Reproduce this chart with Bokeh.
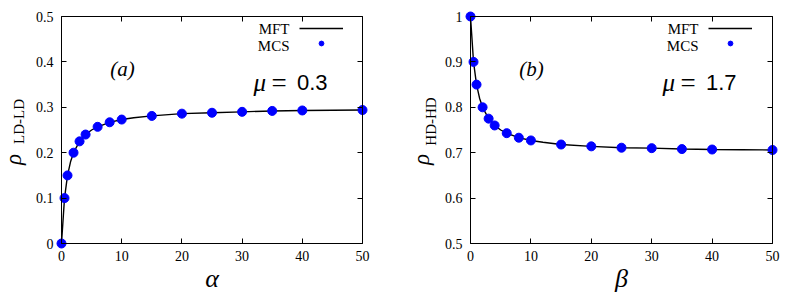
import math
from bokeh.plotting import figure
from bokeh.models import (Range1d, LinearAxis, FixedTicker, Label, Legend, LegendItem,
                          CustomJSTickFormatter)
from bokeh.layouts import row
from bokeh.embed import file_html
from bokeh.resources import INLINE
from bokeh.core.properties import value

# ---------------- data ----------------
alpha_mcs = [0, 0.5, 1, 2, 3, 4, 6, 8, 10, 15, 20, 25, 30, 35, 40, 50]
rho_ld_mcs = [0, 0.1, 0.15, 0.2, 0.225, 0.24, 0.257, 0.267, 0.273, 0.281,
              0.286, 0.288, 0.290, 0.292, 0.293, 0.294]
alpha_mft = [0, 0.5, 1, 1.5, 2, 3, 4, 5, 6, 8, 10, 12, 15, 20, 25, 30, 35, 40, 45, 50]
rho_ld_mft = [0, 0.1, 0.15, 0.18, 0.2, 0.225, 0.24, 0.25, 0.257, 0.267, 0.273,
              0.277, 0.281, 0.286, 0.288, 0.290, 0.292, 0.293, 0.2935, 0.294]

beta_mcs = [0, 0.5, 1, 2, 3, 4, 6, 8, 10, 15, 20, 25, 30, 35, 40, 50]
rho_hd_mcs = [1.0, 0.9, 0.85, 0.8, 0.775, 0.76, 0.743, 0.733, 0.727, 0.718,
              0.714, 0.711, 0.710, 0.708, 0.707, 0.706]
beta_mft = [0, 0.5, 1, 1.5, 2, 3, 4, 5, 6, 8, 10, 12, 15, 20, 25, 30, 35, 40, 45, 50]
rho_hd_mft = [1.0, 0.9, 0.85, 0.82, 0.8, 0.775, 0.76, 0.75, 0.743, 0.733, 0.727,
              0.723, 0.718, 0.714, 0.711, 0.710, 0.708, 0.707, 0.7065, 0.706]

x_ticks = [0, 10, 20, 30, 40, 50]
y_ticks_a = [0, 0.1, 0.2, 0.3, 0.4, 0.5]
y_ticks_b = [0.5, 0.6, 0.7, 0.8, 0.9, 1.0]

SERIF = "Liberation Serif"
SANS = "Liberation Sans"
BLUE = "#0000ff"

PAD = 6          # px of room round the axes box, so edge dots are not clipped
BOX_H = 227      # axes box height (px)
FIG_H = 300


def panel(xm, ym, xs, ys, yr, yticks, yover, box_w, bl, br, xlab, tag, mu):
    x0, x1 = 0, 50
    y0, y1 = yr
    kx = box_w / (x1 - x0)
    ky = BOX_H / (y1 - y0)
    px_x, px_y = PAD / kx, PAD / ky
    p = figure(frame_width=box_w + 2 * PAD, frame_height=BOX_H + 2 * PAD,
               output_backend="svg", toolbar_location=None, title=None,
               x_range=Range1d(x0 - px_x, x1 + px_x), y_range=Range1d(y0 - px_y, y1 + px_y),
               x_axis_location=None, y_axis_location=None,
               min_border_left=bl, min_border_right=br, min_border_top=10,
               min_border_bottom=FIG_H - 10 - BOX_H - 2 * PAD)
    p.background_fill_color = "white"
    p.border_fill_color = "white"
    p.grid.visible = False
    p.outline_line_color = None

    def dx(px):
        return x0 + px / kx

    def dy(py):
        return y1 - py / ky

    # tick-label axes at the (padded) frame edge: labels only
    lab = dict(axis_line_color=None, major_tick_line_color=None, minor_tick_line_color=None,
               major_tick_in=0, major_tick_out=0, major_label_text_font=SERIF,
               major_label_text_font_size="14px", major_label_text_color="black")
    bottom_lab = LinearAxis(ticker=FixedTicker(ticks=x_ticks), major_label_standoff=1,
                            axis_label=xlab, axis_label_text_font=SERIF,
                            axis_label_text_font_style="italic",
                            axis_label_text_font_size="26px", axis_label_text_color="black",
                            axis_label_standoff=0, **lab)
    left_lab = LinearAxis(ticker=FixedTicker(ticks=yticks), major_label_standoff=2,
                          major_label_overrides=yover, **lab)
    p.add_layout(bottom_lab, "below")
    p.add_layout(left_lab, "left")

    # box axes drawn exactly on the data limits: line + inward ticks, no labels
    blank = CustomJSTickFormatter(code="return ''")
    box = dict(axis_line_color="black", axis_line_width=1, major_tick_in=5,
               major_tick_out=0, minor_tick_line_color=None, major_tick_line_color="black",
               formatter=blank, major_label_standoff=0, major_label_text_color=None)
    for loc, fl, tk, bd in (("below", y0, x_ticks, (x0, x1)), ("above", y1, x_ticks, (x0, x1)),
                            ("left", x0, yticks, (y0, y1)), ("right", x1, yticks, (y0, y1))):
        p.add_layout(LinearAxis(ticker=FixedTicker(ticks=tk), fixed_location=fl,
                                bounds=bd, **box), loc)

    lr = p.line(xm, ym, line_color="black", line_width=1.4)
    sr = p.scatter(xs, ys, size=9, fill_color=BLUE, line_color=BLUE, marker="circle")

    # legend (gnuplot style: text on the left, sample on the right)
    leg = Legend(items=[LegendItem(label=value(" "), renderers=[lr]),
                        LegendItem(label=value(" "), renderers=[sr])],
                 location=(238 + PAD, 194 + PAD), glyph_width=44, glyph_height=12,
                 spacing=3, padding=0, margin=0, label_standoff=0, label_width=0,
                 label_height=12, label_text_font_size="12px", label_text_color=None,
                 background_fill_alpha=0, border_line_alpha=0)
    p.add_layout(leg, "center")
    for txt, py in (("MFT", 12.5), ("MCS", 29)):
        p.add_layout(Label(x=dx(228), y=dy(py), text=txt, text_align="right",
                           text_baseline="middle", text_font=SERIF,
                           text_font_size="15px", text_color="black"))

    # panel tag and mu
    p.add_layout(Label(x=dx(61), y=dy(52), text=tag, text_align="center",
                       text_baseline="alphabetic", text_font=SERIF, text_font_style="italic",
                       text_font_size="21px", text_color="black"))
    p.add_layout(Label(x=dx(192), y=dy(66), text="μ", text_align="left",
                       text_baseline="alphabetic", text_font=SERIF, text_font_style="italic",
                       text_font_size="25px", text_color="black"))
    p.add_layout(Label(x=dx(210), y=dy(66), text="=", text_align="left",
                       text_baseline="alphabetic", text_font=SERIF,
                       text_font_size="27px", text_color="black"))
    p.add_layout(Label(x=dx(266), y=dy(66), text=mu, text_align="right",
                       text_baseline="alphabetic", text_font=SANS,
                       text_font_size="22px", text_color="black"))
    return p


def ylabel_fig(w, x_rho, x_sub, sub):
    # a bare strip whose data units are page pixels (y measured from the top)
    f = figure(frame_width=w, frame_height=FIG_H, output_backend="svg",
               toolbar_location=None, title=None,
               x_range=Range1d(0, w), y_range=Range1d(0, FIG_H),
               x_axis_location=None, y_axis_location=None, min_border=0)
    f.grid.visible = False
    f.outline_line_color = None
    f.add_layout(Label(x=x_rho, y=FIG_H - 149, text="ρ", angle=math.pi / 2,
                       text_align="center", text_baseline="middle", text_font=SERIF,
                       text_font_style="italic", text_font_size="23px", text_color="black"))
    f.add_layout(Label(x=x_sub, y=FIG_H - 111, text=sub, angle=math.pi / 2,
                       text_align="center", text_baseline="middle", text_font=SERIF,
                       text_font_size="15px", text_color="black"))
    return f


# page x layout: [0,28) y-label a | panel a (box 61..362) | [400,440) y-label b | panel b (box 470..772)
la = ylabel_fig(28, 13, 18, "LD-LD")
pa = panel(alpha_mft, rho_ld_mft, alpha_mcs, rho_ld_mcs, (0, 0.5), y_ticks_a,
           {0: "0"}, 301, 61 - PAD - 28, 400 - 362 - PAD, "α", "(a)", "0.3")
lb = ylabel_fig(40, 421 - 400, 430 - 400, "HD-HD")
pb = panel(beta_mft, rho_hd_mft, beta_mcs, rho_hd_mcs, (0.5, 1.0), y_ticks_b,
           {1: "1"}, 302, 470 - PAD - 440, 12, "β", "(b)", "1.7")

layout = row(la, pa, lb, pb)
open("out.html", "w").write(file_html(layout, INLINE))
